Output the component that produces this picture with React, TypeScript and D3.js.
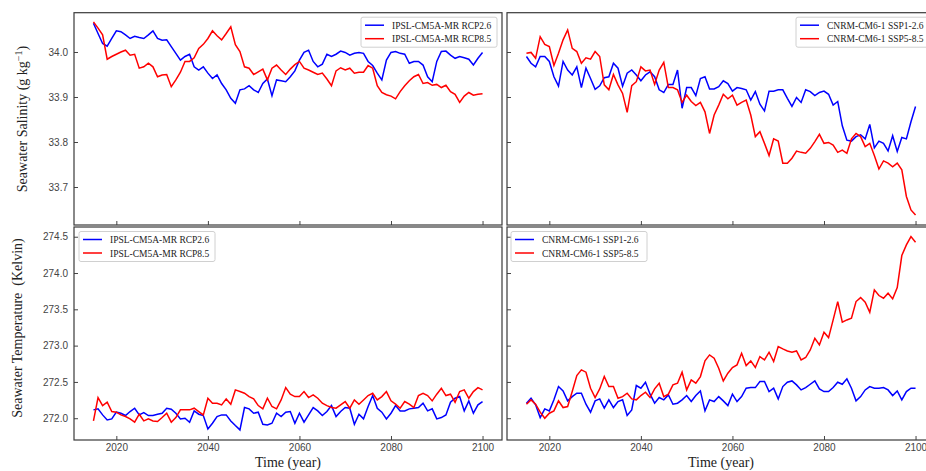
import React, { useEffect, useRef } from 'react';
import * as d3 from 'd3';

const years = d3.range(2015, 2101);
const xTicks = [2020, 2040, 2060, 2080, 2100];
const salTicks = [33.7, 33.8, 33.9, 34.0];
const tempTicks = [272.0, 272.5, 273.0, 273.5, 274.0, 274.5];

const ipslSalRcp26 = [
  34.064, 34.041, 34.019, 34.013, 34.03, 34.047, 34.045, 34.038, 34.03, 34.035,
  34.032, 34.03, 34.038, 34.047, 34.03, 34.026, 34.027, 34.012, 33.997, 33.982,
  33.99, 33.995, 33.967, 33.96, 33.967, 33.953, 33.941, 33.949, 33.93, 33.916,
  33.897, 33.886, 33.916, 33.918, 33.925, 33.916, 33.91, 33.93, 33.94, 33.903,
  33.938, 33.936, 33.934, 33.945, 33.958, 33.982, 33.999, 34.004, 33.979, 33.967,
  33.973, 33.995, 33.99, 33.995, 34.002, 33.999, 33.993, 33.997, 33.999, 33.997,
  33.979, 33.97, 33.953, 33.938, 33.982, 33.999, 34.001, 33.997, 33.995, 33.975,
  33.979, 33.979, 33.971, 33.945, 33.934, 33.979, 34.001, 34.002, 33.993, 33.986,
  33.99, 33.987, 33.984, 33.971, 33.986, 33.999,
];
const ipslSalRcp85 = [
  34.067, 34.053, 34.038, 33.984, 33.99, 33.995, 34.0, 34.004, 33.993, 33.995,
  33.964, 33.967, 33.975, 33.967, 33.945, 33.949, 33.95, 33.923, 33.938, 33.955,
  33.979, 33.979, 33.987, 34.008, 34.017, 34.03, 34.047, 34.036, 34.027, 34.041,
  34.056, 34.016, 34.001, 33.967, 33.964, 33.95, 33.956, 33.962, 33.938, 33.964,
  33.971, 33.96, 33.95, 33.962, 33.972, 33.979, 33.964, 33.96, 33.955, 33.95,
  33.953, 33.94, 33.925, 33.958, 33.965, 33.96, 33.964, 33.953, 33.955, 33.955,
  33.97, 33.964, 33.925, 33.91, 33.905, 33.902, 33.896, 33.912, 33.925, 33.936,
  33.945, 33.95, 33.93, 33.932, 33.926, 33.928, 33.921, 33.926, 33.912, 33.906,
  33.888, 33.902, 33.91, 33.904, 33.906, 33.907,
];
const cnrmSalSsp126 = [
  33.99, 33.975, 33.967, 33.99, 33.99, 33.979, 33.945, 33.924, 33.979, 33.96,
  33.949, 33.967, 33.921, 33.964, 33.941, 33.917, 33.925, 33.943, 33.945, 33.975,
  33.964, 33.924, 33.953, 33.96, 33.949, 33.936, 33.949, 33.956, 33.945, 33.916,
  33.91, 33.928, 33.928, 33.96, 33.875, 33.921, 33.921, 33.903, 33.941, 33.945,
  33.918, 33.918, 33.923, 33.936, 33.93, 33.913, 33.921, 33.919, 33.916, 33.893,
  33.912, 33.884, 33.869, 33.913, 33.913, 33.916, 33.916, 33.897, 33.879, 33.899,
  33.888, 33.916, 33.912, 33.903, 33.91, 33.913, 33.906, 33.882, 33.89, 33.836,
  33.804, 33.802, 33.812, 33.816, 33.807, 33.839, 33.787, 33.802, 33.797, 33.78,
  33.814, 33.779, 33.81, 33.807, 33.845, 33.879,
];
const cnrmSalSsp585 = [
  33.997, 33.999, 33.986, 34.034, 34.017, 34.012, 33.97, 33.997, 34.027, 34.049,
  34.008, 34.001, 33.975, 33.987, 33.984, 34.001, 33.99, 33.927, 33.916, 33.95,
  33.927, 33.908, 33.866, 33.925, 33.934, 33.967, 33.958, 33.96, 33.928, 33.96,
  33.977, 33.921, 33.921, 33.916, 33.888, 33.904, 33.89, 33.881, 33.888, 33.867,
  33.819, 33.86, 33.882, 33.906, 33.896, 33.904, 33.882, 33.888, 33.893, 33.86,
  33.812, 33.823, 33.797, 33.77, 33.807, 33.802, 33.753, 33.753, 33.764, 33.78,
  33.777, 33.775, 33.786, 33.801, 33.817, 33.797, 33.799, 33.793, 33.777, 33.782,
  33.775, 33.807, 33.819, 33.812, 33.79, 33.797, 33.77, 33.74, 33.758, 33.753,
  33.745, 33.753, 33.738, 33.679, 33.649, 33.638,
];
const ipslTempRcp26 = [
  272.115, 272.129, 272.046, 271.977, 271.991, 272.083, 272.069, 272.037, 272.092, 272.138,
  272.046, 272.078, 272.037, 272.037, 272.055, 272.069, 272.138, 272.124, 272.069, 271.991,
  272.0, 271.945, 272.101, 272.055, 272.037, 271.853, 271.931, 272.023, 272.046, 272.046,
  271.963, 271.899, 271.839, 272.147, 272.129, 272.069, 272.083, 271.917, 271.908, 271.931,
  272.069, 272.023, 272.083, 272.092, 271.931, 272.069, 271.945, 272.046, 272.147, 272.101,
  272.037, 272.092, 272.174, 272.023, 272.092, 272.147, 272.138, 271.917, 272.055, 271.991,
  272.161, 272.312, 272.138, 272.083, 271.991, 272.069, 272.174, 272.101, 272.101, 272.129,
  272.138, 272.147, 272.207, 272.101, 272.129, 271.991, 272.009, 272.046, 272.22, 272.275,
  272.298, 272.101, 272.239, 272.069, 272.184, 272.23,
];
const ipslTempRcp85 = [
  271.963, 272.285, 272.174, 272.22, 272.092, 272.083, 272.046, 272.023, 271.991, 271.945,
  272.055, 271.963, 271.991, 271.963, 271.954, 272.009, 272.069, 271.945, 272.009, 272.115,
  272.115, 272.115, 272.138, 272.092, 272.046, 272.275, 272.207, 272.207, 272.184, 272.266,
  272.193, 272.39, 272.367, 272.344, 272.298, 272.266, 272.174, 272.129, 272.275, 272.161,
  272.129, 272.252, 272.422, 272.331, 272.298, 272.298, 272.367, 272.285, 272.321, 272.275,
  272.207, 272.174, 272.147, 272.138, 272.184, 272.23, 272.138, 272.252, 272.193, 272.252,
  272.312, 272.344, 272.252, 272.298, 272.367, 272.239, 272.193, 272.138, 272.23, 272.193,
  272.147, 272.312, 272.344, 272.312, 272.239, 272.331, 272.413, 272.312, 272.331, 272.22,
  272.367, 272.39, 272.275, 272.367, 272.422, 272.39,
];
const cnrmTempSsp126 = [
  272.207, 272.275, 272.184, 272.009, 272.129, 272.101, 272.253, 272.436, 272.376, 272.239,
  272.298, 272.344, 272.344, 272.193, 272.083, 272.239, 272.266, 272.138, 272.253, 272.147,
  272.23, 272.253, 272.037, 272.115, 272.45, 272.413, 272.496, 272.331, 272.207, 272.285,
  272.253, 272.321, 272.193, 272.207, 272.253, 272.312, 272.23, 272.312, 272.376, 272.101,
  272.253, 272.23, 272.298, 272.239, 272.174, 272.331, 272.23, 272.298, 272.413, 272.422,
  272.422, 272.505, 272.505, 272.367, 272.413, 272.266, 272.436, 272.496, 272.514, 272.459,
  272.39, 272.422, 272.468, 272.514, 272.404, 272.367, 272.367, 272.422, 272.496, 272.468,
  272.542, 272.413, 272.239, 272.298, 272.39, 272.436, 272.413, 272.413, 272.422, 272.39,
  272.312, 272.376, 272.253, 272.367, 272.413, 272.413,
];
const cnrmTempSsp585 = [
  272.193, 272.253, 272.193, 272.083, 272.0, 272.069, 272.101, 272.239, 272.147, 272.161,
  272.367, 272.588, 272.666, 272.634, 272.413, 272.285, 272.404, 272.574, 272.436, 272.436,
  272.275, 272.298, 272.344, 272.266, 272.253, 272.312, 272.358, 272.285, 272.404, 272.482,
  272.298, 272.331, 272.459, 272.482, 272.634, 272.39, 272.528, 272.482, 272.574, 272.79,
  272.872, 272.826, 272.689, 272.514, 272.62, 272.698, 272.735, 272.895, 272.725, 272.79,
  272.698, 272.849, 272.803, 272.909, 272.781, 272.987, 272.955, 272.927, 272.909, 272.927,
  272.803, 272.836, 272.941, 273.102, 273.01, 273.185, 273.111, 273.354, 273.607, 273.322,
  273.354, 273.377, 273.607, 273.662, 273.598, 273.46, 273.768, 273.69, 273.653, 273.722,
  273.644, 273.8, 274.241, 274.388, 274.502, 274.424,
];

const panels = [
  { col: 0, row: 0, blue: ipslSalRcp26, red: ipslSalRcp85, labels: ['IPSL-CM5A-MR RCP2.6', 'IPSL-CM5A-MR RCP8.5'], lx: 361 },
  { col: 1, row: 0, blue: cnrmSalSsp126, red: cnrmSalSsp585, labels: ['CNRM-CM6-1 SSP1-2.6', 'CNRM-CM6-1 SSP5-8.5'], lx: 796 },
  { col: 0, row: 1, blue: ipslTempRcp26, red: ipslTempRcp85, labels: ['IPSL-CM5A-MR RCP2.6', 'IPSL-CM5A-MR RCP8.5'], lx: 79 },
  { col: 1, row: 1, blue: cnrmTempSsp126, red: cnrmTempSsp585, labels: ['CNRM-CM6-1 SSP1-2.6', 'CNRM-CM6-1 SSP5-8.5'], lx: 511 },
];

const App = () => {
  const svgRef = useRef(null);

  useEffect(() => {
    const svg = d3.select(svgRef.current);
    svg.selectAll('*').remove();

    const sans = '"Liberation Sans", Arial, sans-serif';
    const serif = '"Liberation Serif", "Times New Roman", serif';
    const colX = [[74, 502], [507, 935]];
    const rowY = [[12.7, 225], [227, 440]];
    const yDomains = [[33.6156, 34.0873], [271.7, 274.634]];
    const yTickSets = [salTicks, tempTicks];

    panels.forEach((p) => {
      const [x0, x1] = colX[p.col];
      const [y0, y1] = rowY[p.row];
      const x = d3.scaleLinear().domain([2010.75, 2104.25]).range([x0, x1]);
      const y = d3.scaleLinear().domain(yDomains[p.row]).range([y1, y0]);
      const g = svg.append('g');

      // x axis, ticks inside
      const xa = g.append('g')
        .attr('transform', `translate(0,${y1})`)
        .call(d3.axisBottom(x).tickValues(xTicks).tickSize(-4).tickPadding(4).tickFormat(p.row === 1 ? d3.format('d') : () => ''));
      xa.select('.domain').remove();
      xa.selectAll('line').attr('stroke', '#444');
      xa.selectAll('text').attr('fill', '#444').attr('font-size', 10).attr('font-family', sans);

      // y axis, ticks inside
      const ya = g.append('g')
        .attr('transform', `translate(${x0},0)`)
        .call(d3.axisLeft(y).tickValues(yTickSets[p.row]).tickSize(-4).tickPadding(6).tickFormat(p.col === 0 ? d3.format('.1f') : () => ''));
      ya.select('.domain').remove();
      ya.selectAll('line').attr('stroke', '#444');
      ya.selectAll('text').attr('fill', '#444').attr('font-size', 10).attr('font-family', sans);

      const line = d3.line().x((d, i) => x(years[i])).y((d) => y(d));
      g.append('path').datum(p.blue).attr('fill', 'none').attr('stroke', '#0000ff').attr('stroke-width', 1.5).attr('d', line);
      g.append('path').datum(p.red).attr('fill', 'none').attr('stroke', '#ff0000').attr('stroke-width', 1.5).attr('d', line);

      g.append('rect')
        .attr('x', x0).attr('y', y0).attr('width', x1 - x0).attr('height', y1 - y0)
        .attr('fill', 'none').attr('stroke', '#3a3a3a').attr('stroke-width', 1.2);

      // legend
      const lg = g.append('g').attr('transform', `translate(${p.lx},${y0 + 4.5})`);
      lg.append('rect').attr('width', 136).attr('height', 30).attr('rx', 2)
        .attr('fill', 'white').attr('fill-opacity', 0.85).attr('stroke', '#d0d0d0');
      [['#0000ff', p.labels[0]], ['#ff0000', p.labels[1]]].forEach(([c, t], i) => {
        lg.append('line').attr('x1', 4).attr('x2', 23).attr('y1', 8 + i * 13.5).attr('y2', 8 + i * 13.5)
          .attr('stroke', c).attr('stroke-width', 1.5);
        lg.append('text').attr('x', 31).attr('y', 11.5 + i * 13.5).attr('font-size', 9.5)
          .attr('font-family', serif).attr('fill', '#222').text(t);
      });
    });

    // axis titles
    const sal = svg.append('text')
      .attr('transform', 'translate(27,119) rotate(-90)')
      .attr('text-anchor', 'middle').attr('font-family', serif).attr('font-size', 14).attr('fill', '#222');
    sal.append('tspan').text('Seawater Salinity (g kg');
    sal.append('tspan').attr('dy', -5).attr('font-size', 10).text('\u22121');
    sal.append('tspan').attr('dy', 5).text(')');

    svg.append('text')
      .attr('transform', 'translate(22,328) rotate(-90)')
      .attr('text-anchor', 'middle').attr('font-family', serif).attr('font-size', 14).attr('fill', '#222')
      .style('white-space', 'pre')
      .text('Seawater Temperature  (Kelvin)');

    [288, 721].forEach((cx) => {
      svg.append('text')
        .attr('x', cx).attr('y', 467)
        .attr('text-anchor', 'middle').attr('font-family', serif).attr('font-size', 14).attr('fill', '#222')
        .text('Time (year)');
    });
  }, []);

  return (
    <div style={{ position: 'absolute', left: 0, top: 0, width: 926, height: 471, overflow: 'hidden', background: 'white' }}>
      <svg ref={svgRef} width={926} height={471} />
    </div>
  );
};

export default App;
